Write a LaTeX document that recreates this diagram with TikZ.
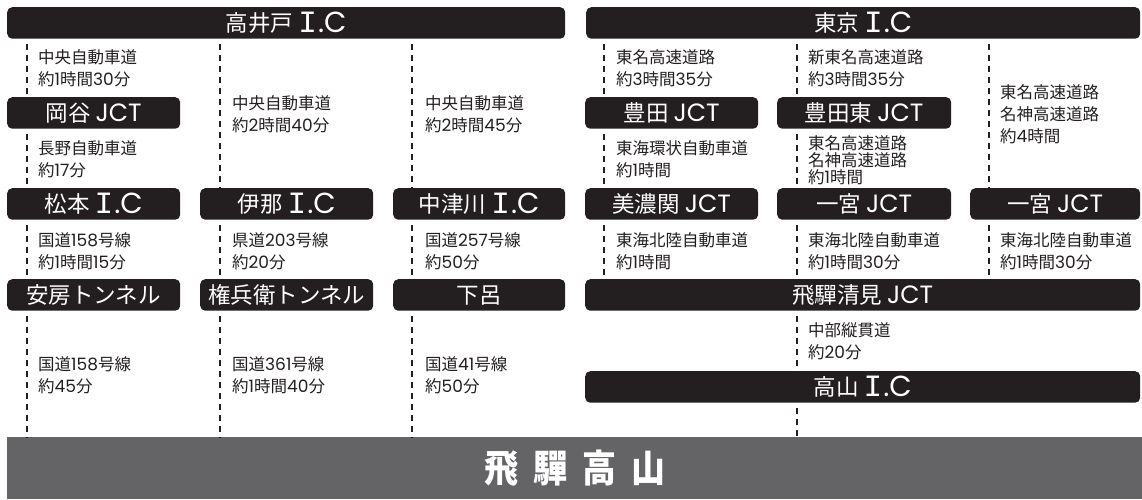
\documentclass[tikz,border=0pt]{standalone}
\usepackage{fontspec}
\usepackage{graphicx}
\setmainfont{Noto Sans CJK JP}
\newfontfamily\popf{Poppins}
\newfontfamily\monof{Liberation Mono}
\usetikzlibrary{calc}
\definecolor{boxc}{HTML}{231F20}
\definecolor{bandc}{HTML}{646365}
\newcommand\dg[1]{\smash{\popf\fontsize{17}{17}\selectfont #1}}
\newcommand\ICx{\raisebox{-1.5pt}{\fontsize{29}{29}\selectfont{\monof\fontsize{31}{31}\selectfont I}\hspace{1pt}{\popf .C}}}
\newcommand\JCTx{{\fontsize{25}{25}\selectfont\popf JCT}}
\begin{document}
\begin{tikzpicture}[x=1pt,y=-1pt,
  place/.style={fill=boxc, rounded corners=5pt, text=white, font=\fontsize{22.5}{22.5}\selectfont,
    inner sep=0pt, minimum height=31.5pt, text height=17pt, text depth=0pt, anchor=north west},
  narrow/.style={place, minimum width=173pt},
  wide/.style={place, minimum width=555pt},
  lbl/.style={anchor=west, align=left, inner sep=0pt, text=boxc, font=\fontsize{16.5}{22}\selectfont},
  lbltight/.style={lbl, font=\fontsize{16.5}{17}\selectfont},
  road/.style={draw=boxc, line width=1.2pt, dash pattern=on 6pt off 5pt}]
\useasboundingbox (0,0) rectangle (1142,499);
% columns
\coordinate (c1) at (27,0);
\coordinate (c2) at (220,0);
\coordinate (c3) at (412,0);
\coordinate (c4) at (604,0);
\coordinate (c5) at (797,0);
\coordinate (c6) at (989,0);
% boxes
\node[place, minimum width=558pt] (takaido) at (7,7) {高井戸 \ICx};
\node[place, minimum width=554pt] (tokyo) at (586,7) {東京 \ICx};
\node[narrow] (okaya) at (7,97) {岡谷 \JCTx};
\node[narrow] (toyota) at (585,97) {豊田 \JCTx};
\node[narrow, minimum width=174pt] (toyotah) at (777,97) {豊田東 \JCTx};
\node[narrow] (matsumoto) at (7,188) {松本 \ICx};
\node[narrow] (ina) at (200,188) {伊那 \ICx};
\node[narrow, minimum width=172pt] (nakatsu) at (393,188) {中津川 \ICx};
\node[narrow] (mino) at (585,188) {美濃関 \JCTx};
\node[narrow, minimum width=174pt] (ichi1) at (777,188) {一宮 \JCTx};
\node[narrow, minimum width=170pt] (ichi2) at (970,188) {一宮 \JCTx};
\node[narrow] (abo) at (7,279) {安房トンネル};
\node[narrow] (gonbe) at (200,279) {権兵衛トンネル};
\node[narrow, minimum width=172pt] (gero) at (393,279) {下呂};
\node[wide] (kiyomi) at (585,279) {飛驒清見 \JCTx};
\node[wide] (takayama) at (585,371) {高山 \ICx};
\node[fill=bandc, anchor=north west, inner sep=0pt, minimum width=1135pt, minimum height=62pt,
  text=white, font=\fontsize{34}{34}\selectfont\bfseries] (dest) at (7,437)
  {\scalebox{1}[1.12]{飛\hspace{15pt}驒\hspace{15pt}高\hspace{15pt}山}};
% dashed roads
\foreach \a/\b/\c in {takaido/okaya/c1, okaya/matsumoto/c1, matsumoto/abo/c1, abo/dest/c1,
  takaido/ina/c2, ina/gonbe/c2, gonbe/dest/c2,
  takaido/nakatsu/c3, nakatsu/gero/c3, gero/dest/c3,
  tokyo/toyota/c4, toyota/mino/c4, mino/kiyomi/c4,
  tokyo/toyotah/c5, toyotah/ichi1/c5, ichi1/kiyomi/c5, kiyomi/takayama/c5, takayama/dest/c5,
  tokyo/ichi2/c6, ichi2/kiyomi/c6}
  \draw[road] ($(\a.south -| \c)+(0,5)$) -- (\b.north -| \c);
% labels
\node[lbl] (t1) at (38,68) {中央自動車道\\約\dg{1}時間\dg{30}分};
\node[lbl] (t2) at (38,159) {長野自動車道\\約\dg{17}分};
\node[lbl] (t3) at (38,251) {国道\dg{158}号線\\約\dg{1}時間\dg{15}分};
\node[lbl] (t4) at (38,375.5) {国道\dg{158}号線\\約\dg{45}分};
\node[lbl] (t5) at (232,114) {中央自動車道\\約\dg{2}時間\dg{40}分};
\node[lbl] (t6) at (232,251) {県道\dg{203}号線\\約\dg{20}分};
\node[lbl] (t7) at (232,375.5) {国道\dg{361}号線\\約\dg{1}時間\dg{40}分};
\node[lbl] (t8) at (425,114) {中央自動車道\\約\dg{2}時間\dg{45}分};
\node[lbl] (t9) at (425,251) {国道\dg{257}号線\\約\dg{50}分};
\node[lbl] (t10) at (425,375.5) {国道\dg{41}号線\\約\dg{50}分};
\node[lbl] (t11) at (616,68) {東名高速道路\\約\dg{3}時間\dg{35}分};
\node[lbl] (t12) at (616,159) {東海環状自動車道\\約\dg{1}時間};
\node[lbl] (t13) at (616,251) {東海北陸自動車道\\約\dg{1}時間};
\node[lbl] (t14) at (808,68) {新東名高速道路\\約\dg{3}時間\dg{35}分};
\node[lbltight] (t15) at (808,160) {東名高速道路\\名神高速道路\\約\dg{1}時間};
\node[lbl] (t16) at (808,251) {東海北陸自動車道\\約\dg{1}時間\dg{30}分};
\node[lbl] (t17) at (808,341) {中部縦貫道\\約\dg{20}分};
\node[lbl] (t18) at (1000,114) {東名高速道路\\名神高速道路\\約\dg{4}時間};
\node[lbl] (t19) at (1000,251) {東海北陸自動車道\\約\dg{1}時間\dg{30}分};
\end{tikzpicture}
\end{document}
